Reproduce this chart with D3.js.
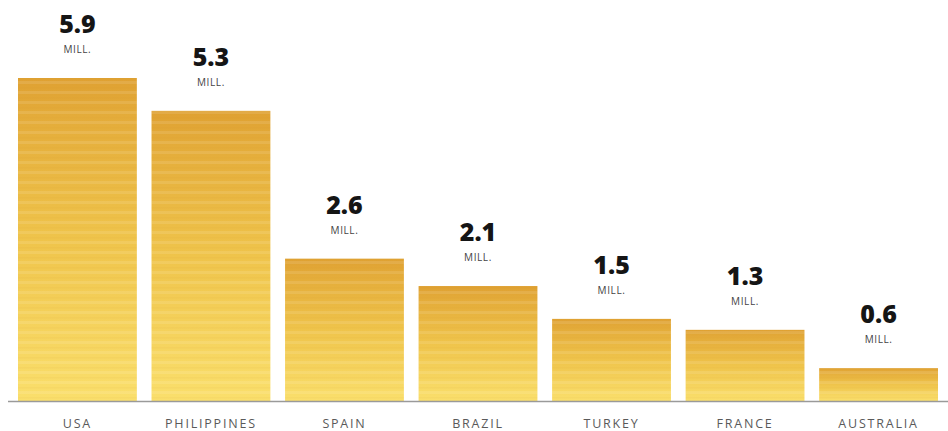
<!DOCTYPE html>
<html>
<head>
<meta charset="utf-8">
<script src="https://cdn.jsdelivr.net/npm/d3@7"></script>
<style>
  html, body { margin: 0; padding: 0; background: #fff; }
  svg { display: block; }
</style>
</head>
<body>
<svg id="chart" width="948" height="431"></svg>
<script>
// Countries and values (millions)
const countries = ["USA", "PHILIPPINES", "SPAIN", "BRAZIL", "TURKEY", "FRANCE", "AUSTRALIA"];
const values = [5.9, 5.3, 2.6, 2.1, 1.5, 1.3, 0.6];
const valueLabels = ["5.9", "5.3", "2.6", "2.1", "1.5", "1.3", "0.6"];
const unitLabel = "MILL.";

const W = 948, H = 431;
const baseline = 401;
const svg = d3.select("#chart");

const x = d3.scaleBand()
  .domain(countries)
  .range([18, 938])
  .paddingInner(0.11)
  .paddingOuter(0);

const y = d3.scaleLinear()
  .domain([0, 5.9])
  .range([baseline, 78]);

const defs = svg.append("defs");

// Vertical gold gradient, per bar
const grad = defs.append("linearGradient")
  .attr("id", "gold")
  .attr("x1", 0).attr("y1", 0).attr("x2", 0).attr("y2", 1);
grad.append("stop").attr("offset", "0%").attr("stop-color", "#DFA132");
grad.append("stop").attr("offset", "12%").attr("stop-color", "#E4AC3A");
grad.append("stop").attr("offset", "50%").attr("stop-color", "#EFC44B");
grad.append("stop").attr("offset", "100%").attr("stop-color", "#FADF6C");

// Faint horizontal stripes
const pat = defs.append("pattern")
  .attr("id", "stripes")
  .attr("patternUnits", "userSpaceOnUse")
  .attr("width", 8).attr("height", 10)
  .attr("y", baseline);
pat.append("rect").attr("x", 0).attr("y", 0).attr("width", 8).attr("height", 3)
  .attr("fill", "#fff").attr("opacity", 0.10);
pat.append("rect").attr("x", 0).attr("y", 6).attr("width", 8).attr("height", 1.5)
  .attr("fill", "#c98a1c").attr("opacity", 0.06);

const data = countries.map((c, i) => ({ c, v: values[i], lab: valueLabels[i] }));

const bars = svg.append("g");
bars.selectAll("rect.bar")
  .data(data)
  .join("rect")
  .attr("class", "bar")
  .attr("x", d => x(d.c))
  .attr("y", d => y(d.v))
  .attr("width", x.bandwidth())
  .attr("height", d => baseline - y(d.v))
  .attr("fill", "url(#gold)");

bars.selectAll("rect.stripe")
  .data(data)
  .join("rect")
  .attr("class", "stripe")
  .attr("x", d => x(d.c))
  .attr("y", d => y(d.v))
  .attr("width", x.bandwidth())
  .attr("height", d => baseline - y(d.v))
  .attr("fill", "url(#stripes)");

// Baseline
svg.append("line")
  .attr("x1", 8).attr("x2", W)
  .attr("y1", baseline + 0.5).attr("y2", baseline + 0.5)
  .attr("stroke", "#9a9a9a")
  .attr("stroke-width", 1.5);

// Value labels
const labels = svg.append("g")
  .attr("font-family", "'Open Sans', 'DejaVu Sans', sans-serif")
  .attr("text-anchor", "middle");

labels.selectAll("text.val")
  .data(data)
  .join("text")
  .attr("class", "val")
  .attr("x", d => x(d.c) + x.bandwidth() / 2)
  .attr("y", d => y(d.v) - 45)
  .attr("font-size", 25)
  .attr("font-weight", 800)
  .attr("fill", "#151515")
  .text(d => d.lab);

labels.selectAll("text.unit")
  .data(data)
  .join("text")
  .attr("class", "unit")
  .attr("x", d => x(d.c) + x.bandwidth() / 2)
  .attr("y", d => y(d.v) - 25)
  .attr("font-size", 10)
  .attr("letter-spacing", 0.6)
  .attr("fill", "#444")
  .text(unitLabel);

// Category labels
labels.selectAll("text.cat")
  .data(data)
  .join("text")
  .attr("class", "cat")
  .attr("x", d => x(d.c) + x.bandwidth() / 2)
  .attr("y", 428)
  .attr("font-size", 12.5)
  .attr("letter-spacing", 1.8)
  .attr("fill", "#5a5a5a")
  .text(d => d.c);
</script>
</body>
</html>
